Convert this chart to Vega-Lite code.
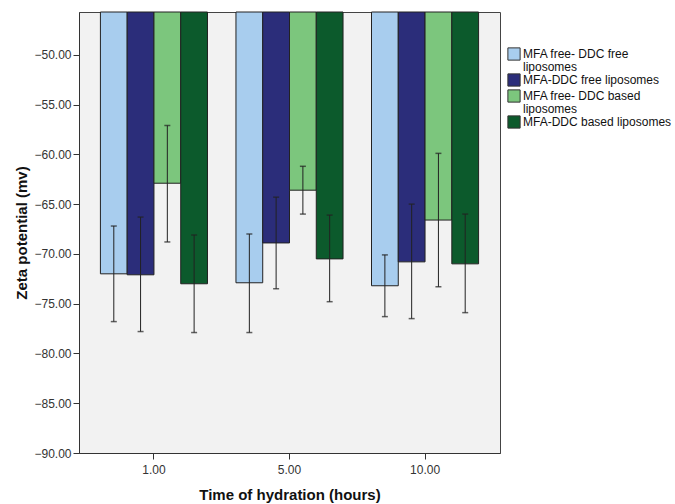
{
  "$schema": "https://vega.github.io/schema/vega-lite/v6.json",
  "width": 421,
  "height": 441,
  "autosize": "none",
  "padding": {"left": 79, "top": 12, "right": 175, "bottom": 51},
  "background": "white",
  "config": {
    "view": {"fill": "#f2f2f2", "stroke": "#444444", "strokeWidth": 1},
    "font": "Liberation Sans"
  },
  "data": {
    "values": [
      {"time": "1.00", "group": "MFA free- DDC free liposomes", "mean": -72.0, "lo": -76.8, "hi": -67.2},
      {"time": "1.00", "group": "MFA-DDC free liposomes", "mean": -72.1, "lo": -77.8, "hi": -66.3},
      {"time": "1.00", "group": "MFA free- DDC based liposomes", "mean": -62.9, "lo": -68.8, "hi": -57.1},
      {"time": "1.00", "group": "MFA-DDC based liposomes", "mean": -73.0, "lo": -77.9, "hi": -68.1},
      {"time": "5.00", "group": "MFA free- DDC free liposomes", "mean": -72.9, "lo": -77.9, "hi": -68.0},
      {"time": "5.00", "group": "MFA-DDC free liposomes", "mean": -68.9, "lo": -73.5, "hi": -64.3},
      {"time": "5.00", "group": "MFA free- DDC based liposomes", "mean": -63.6, "lo": -66.0, "hi": -61.2},
      {"time": "5.00", "group": "MFA-DDC based liposomes", "mean": -70.5, "lo": -74.8, "hi": -66.1},
      {"time": "10.00", "group": "MFA free- DDC free liposomes", "mean": -73.2, "lo": -76.3, "hi": -70.1},
      {"time": "10.00", "group": "MFA-DDC free liposomes", "mean": -70.8, "lo": -76.5, "hi": -65.0},
      {"time": "10.00", "group": "MFA free- DDC based liposomes", "mean": -66.6, "lo": -73.3, "hi": -59.9},
      {"time": "10.00", "group": "MFA-DDC based liposomes", "mean": -71.0, "lo": -75.9, "hi": -66.0}
    ]
  },
  "encoding": {
    "x": {
      "field": "time",
      "type": "nominal",
      "sort": ["1.00", "5.00", "10.00"],
      "scale": {"paddingInner": 0.21, "paddingOuter": 0.158},
      "axis": {
        "title": "Time of hydration (hours)",
        "titleFont": "Liberation Sans",
        "titleFontSize": 15,
        "titleFontWeight": "bold",
        "titleColor": "#111111",
        "titleY": 41,
        "titleBaseline": "middle",
        "labelAngle": 0,
        "labelFontSize": 12,
        "labelColor": "#333333",
        "labelPadding": 5,
        "tickSize": 6,
        "tickColor": "#333333",
        "domainColor": "#333333"
      }
    },
    "xOffset": {
      "field": "group",
      "type": "nominal",
      "sort": ["MFA free- DDC free liposomes", "MFA-DDC free liposomes", "MFA free- DDC based liposomes", "MFA-DDC based liposomes"],
      "scale": {"paddingInner": 0, "paddingOuter": 0}
    }
  },
  "layer": [
    {
      "mark": {"type": "bar", "stroke": "#222222", "strokeWidth": 1},
      "encoding": {
        "y": {
          "field": "mean",
          "type": "quantitative",
          "scale": {"domain": [-90, -45.7], "nice": false, "zero": false},
          "axis": {
            "title": "Zeta potential (mv)",
            "titleFont": "Liberation Sans",
            "titleFontSize": 15,
            "titleFontWeight": "bold",
            "titleColor": "#111111",
            "titleX": -58,
            "titleBaseline": "middle",
            "values": [-90, -85, -80, -75, -70, -65, -60, -55, -50],
            "format": ".2f",
            "labelFontSize": 12,
            "labelColor": "#333333",
            "labelPadding": 2,
            "tickSize": 6,
            "tickColor": "#333333",
            "domainColor": "#333333",
            "grid": false
          }
        },
        "y2": {"datum": -45.7},
        "color": {
          "field": "group",
          "type": "nominal",
          "scale": {
            "domain": ["MFA free- DDC free liposomes", "MFA-DDC free liposomes", "MFA free- DDC based liposomes", "MFA-DDC based liposomes"],
            "range": ["#a8cdee", "#2b2d7a", "#7cc67d", "#0c5a2c"]
          },
          "legend": {
            "title": null,
            "orient": "none",
            "legendX": 428,
            "legendY": 35,
            "symbolType": "square",
            "symbolSize": 150,
            "symbolStrokeColor": "#333333",
            "symbolStrokeWidth": 1,
            "labelFont": "Liberation Sans",
            "labelFontSize": 12,
            "labelColor": "#111111",
            "labelOffset": 2,
            "labelLimit": 200,
            "rowPadding": -2,
            "labelExpr": "datum.label == 'MFA free- DDC free liposomes' ? ['MFA free- DDC free', 'liposomes'] : datum.label == 'MFA free- DDC based liposomes' ? ['MFA free- DDC based', 'liposomes'] : datum.label",
            "encode": {"labels": {"update": {"lineHeight": {"value": 12.5}}}}
          }
        }
      }
    },
    {
      "mark": {"type": "rule", "color": "#222222", "strokeWidth": 1},
      "encoding": {
        "y": {"field": "lo", "type": "quantitative"},
        "y2": {"field": "hi"}
      }
    },
    {
      "mark": {"type": "tick", "color": "#222222", "size": 6, "thickness": 1.5},
      "encoding": {
        "y": {"field": "lo", "type": "quantitative"}
      }
    },
    {
      "mark": {"type": "tick", "color": "#222222", "size": 6, "thickness": 1.5},
      "encoding": {
        "y": {"field": "hi", "type": "quantitative"}
      }
    }
  ]
}
